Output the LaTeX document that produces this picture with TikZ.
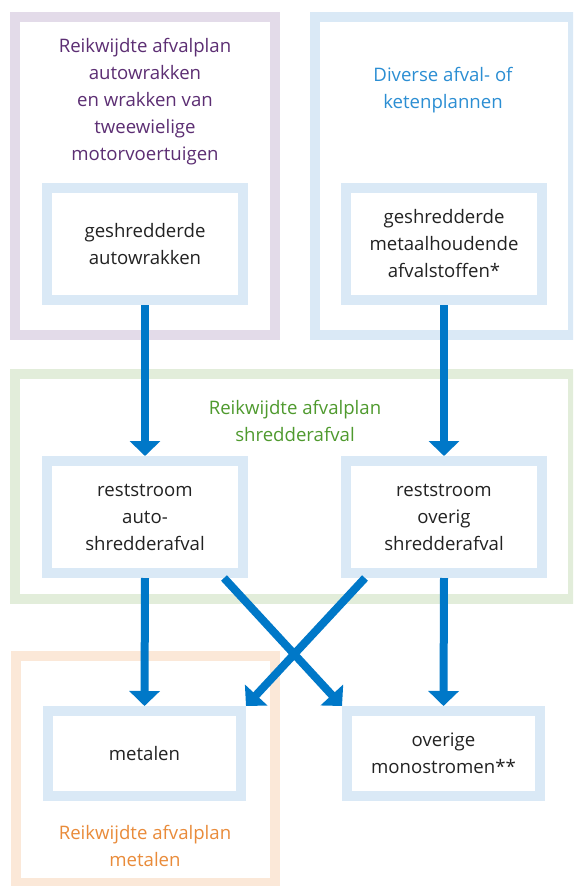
\documentclass[tikz,border=0pt]{standalone}
\usepackage{fontspec}
\setmainfont{Open Sans}
\usetikzlibrary{arrows.meta,calc}
\definecolor{purpleline}{HTML}{E3DBE9}
\definecolor{purpletext}{HTML}{5C2E73}
\definecolor{blueline}{HTML}{DAE9F6}
\definecolor{bluetext}{HTML}{2B8ED3}
\definecolor{greenline}{HTML}{E2EDDA}
\definecolor{greentext}{HTML}{4F9A2E}
\definecolor{orangeline}{HTML}{FBE8D8}
\definecolor{orangetext}{HTML}{E98B3A}
\definecolor{arrowblue}{HTML}{0078C8}
\definecolor{bodytext}{HTML}{222222}
\tikzset{
  container/.style={draw, line width=10pt, inner sep=0pt},
  stepbox/.style={draw=blueline, fill=white, line width=10pt, minimum width=196pt, align=center,
    font=\fontsize{18.6}{27}\selectfont, text=bodytext, inner sep=0pt},
  title/.style={align=center, font=\fontsize{18.6}{27}\selectfont},
  flow/.style={draw=arrowblue, line width=8pt, -{Triangle[width=30pt,length=15pt]}}
}
\begin{document}
\begin{tikzpicture}[x=1pt,y=-1pt]
\clip (0,0) rectangle (573,886);
\fill[white] (0,0) rectangle (573,886);
% containers
\node[container, draw=purpleline, minimum width=260pt, minimum height=318pt] (pc) at (145,176) {};
\node[container, draw=blueline, minimum width=258pt, minimum height=318pt] (bc) at (444,176) {};
\node[container, draw=greenline, minimum width=558pt, minimum height=225pt] (gc) at (294,486.5) {};
\node[container, draw=orangeline, minimum width=259pt, minimum height=227pt] (oc) at (145.5,769.5) {};
% titles
\node[title, text=purpletext] (pt) at (145,102) {Reikwijdte afvalplan\\autowrakken\\en wrakken van\\tweewielige\\motorvoertuigen};
\node[title, text=bluetext] (bt) at (443,90) {Diverse afval- of\\ketenplannen};
\node[title, text=greentext] (gt) at (295,421) {Reikwijdte afvalplan\\shredderafval};
\node[title, text=orangetext] (ot) at (145,846) {Reikwijdte afvalplan\\metalen};
% inner boxes
\node[stepbox, minimum height=112pt] (A) at (145,244) {geshredderde\\autowrakken};
\node[stepbox, minimum height=112pt] (B) at (444,244) {geshredderde\\metaalhoudende\\afvalstoffen*};
\node[stepbox, minimum height=112pt] (C) at (145,517) {reststroom\\auto-\\shredderafval};
\node[stepbox, minimum height=112pt] (D) at (444,517) {reststroom\\overig\\shredderafval};
\node[stepbox, minimum height=85pt, minimum width=193pt] (E) at (144.5,753.5) {metalen};
\node[stepbox, minimum height=85pt, minimum width=193pt] (F) at (443.5,753.5) {overige\\monostromen**};
% connectors
\coordinate (cs) at ($(C.south)+(79,0)$);
\coordinate (ds) at ($(D.south)+(-79,0)$);
\draw[flow] (A.south) -- (C.north);
\draw[flow] (B.south) -- (D.north);
\draw[flow] (C.south) -- (E.north);
\draw[flow] (D.south) -- (F.north);
\draw[flow] (cs) -- (F.north west);
\draw[flow] (ds) -- (E.north east);
\end{tikzpicture}
\end{document}
